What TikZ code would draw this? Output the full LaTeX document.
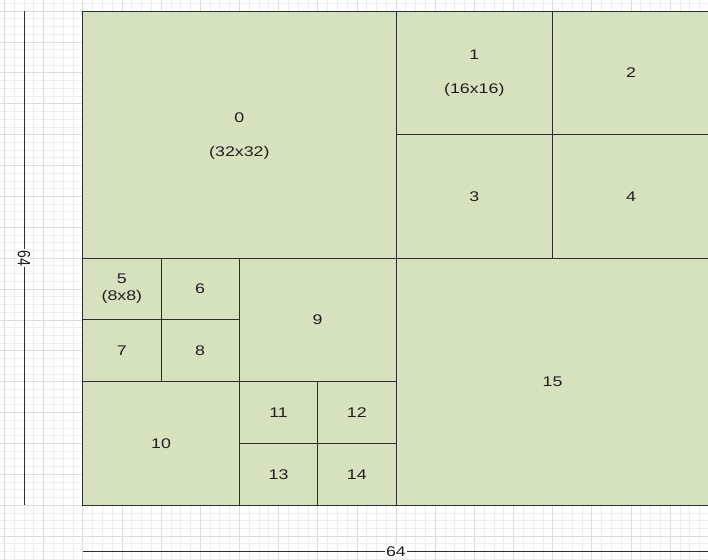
\documentclass[tikz,border=0pt]{standalone}
\usepackage{fontspec}
\setmainfont{Liberation Sans}
\usepackage{tikz}
\definecolor{blockgreen}{RGB}{214,226,189}
\definecolor{edgegray}{RGB}{45,45,45}
\definecolor{gridminor}{RGB}{238,238,238}
\definecolor{gridmajor}{RGB}{221,221,221}
\newcommand{\wide}[1]{\scalebox{1.27}[1]{#1}}
\tikzset{
    block/.style={
        draw=edgegray,
        line width=0.9pt
    },
    blocklabel/.style={
        font=\fontsize{14}{17}\selectfont,
        text=black!88,
        align=center,
        inner sep=0pt
    },
    % dimension lines at the left and below
    dimline/.style={
        draw=edgegray,
        line width=0.9pt
    },
    dimlabel/.style={
        font=\fontsize{14}{17}\selectfont,
        text=black!88,
        fill=white,
        inner sep=1pt
    },
    minorgrid/.style={gridminor, line width=0.6pt},
    majorgrid/.style={gridmajor, line width=0.6pt}
}

\begin{document}
\begin{tikzpicture}[x=9.79pt, y=-7.72pt]
    \clip (-8.447,-1.425) rectangle (63.87,71.11);
    \fill[white] (-8.447,-1.425) rectangle (63.87,71.11);
    % background grid
    \foreach \gx in {-8,...,64}
        \draw[minorgrid] (\gx,-2) -- (\gx,72);
    \foreach \gy in {-1,...,71}
        \draw[minorgrid] (-9,\gy) -- (65,\gy);
    \foreach \gx in {-8,-4,...,64}
        \draw[majorgrid] (\gx,-2) -- (\gx,72);
    \foreach \gy in {0,4,...,68}
        \draw[majorgrid] (-9,\gy) -- (65,\gy);
    \fill[blockgreen] (0,0) rectangle (64,64);
    % blocks
    \draw[block] (0,0) rectangle (32,32);
    \draw[block] (32,0) rectangle (48,16);
    \draw[block] (48,0) rectangle (64,16);
    \draw[block] (32,16) rectangle (48,32);
    \draw[block] (48,16) rectangle (64,32);
    \draw[block] (0,32) rectangle (8,40);
    \draw[block] (8,32) rectangle (16,40);
    \draw[block] (0,40) rectangle (8,48);
    \draw[block] (8,40) rectangle (16,48);
    \draw[block] (16,32) rectangle (32,48);
    \draw[block] (0,48) rectangle (16,64);
    \draw[block] (16,48) rectangle (24,56);
    \draw[block] (24,48) rectangle (32,56);
    \draw[block] (16,56) rectangle (24,64);
    \draw[block] (24,56) rectangle (32,64);
    \draw[block] (32,32) rectangle (64,64);
    \node[blocklabel] (b0) at (16,16.2) {\wide{0}\\[17pt]\wide{(32x32)}};
    \node[blocklabel] (b1) at (40,8) {\wide{1}\\[17pt]\wide{(16x16)}};
    \node[blocklabel] (b2) at (56,8) {\wide{2}};
    \node[blocklabel] (b3) at (40,24) {\wide{3}};
    \node[blocklabel] (b4) at (56,24) {\wide{4}};
    \node[blocklabel] (b5) at (4,36) {\wide{5}\\\wide{(8x8)}};
    \node[blocklabel] (b6) at (12,36) {\wide{6}};
    \node[blocklabel] (b7) at (4,44) {\wide{7}};
    \node[blocklabel] (b8) at (12,44) {\wide{8}};
    \node[blocklabel] (b9) at (24,40) {\wide{9}};
    \node[blocklabel] (b10) at (8,56) {\wide{10}};
    \node[blocklabel] (b11) at (20,52) {\wide{11}};
    \node[blocklabel] (b12) at (28,52) {\wide{12}};
    \node[blocklabel] (b13) at (20,60) {\wide{13}};
    \node[blocklabel] (b14) at (28,60) {\wide{14}};
    \node[blocklabel] (b15) at (48,48) {\wide{15}};
    % dimensions
    \coordinate (htop) at (-6,0);
    \coordinate (hbot) at (-6,64);
    \coordinate (wleft) at (0,70);
    \coordinate (wright) at (64,70);
    \draw[dimline] (htop) -- (hbot) node[midway, dimlabel, rotate=-90] (hdim) {\scalebox{1}[1.27]{64}};
    \draw[dimline] (wleft) -- (wright) node[midway, dimlabel] (wdim) {\wide{64}};
\end{tikzpicture}
\end{document}
